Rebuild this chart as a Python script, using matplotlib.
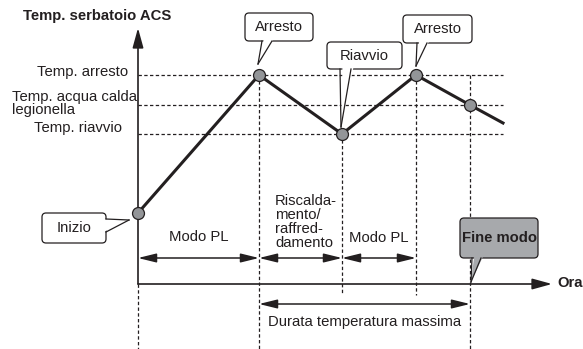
import matplotlib
matplotlib.use("Agg")
import matplotlib.pyplot as plt
from matplotlib.patches import FancyBboxPatch, Polygon

plt.rcParams["font.family"] = ["Liberation Sans", "DejaVu Sans"]

# 1. Data (time / temperature in diagram units, origin at the axes corner)
time_pts = [0, 121, 204, 278, 332, 365]
temp_pts = [71, 209, 150, 209, 179, 161]

level_vals = [209, 179, 150]          # stop, legionella, restart
t_stop1, t_restart, t_stop2, t_end = 121, 204, 278, 332
t_axis_end = 414
temp_axis_end = 256

phase_spans = [(0, t_stop1), (t_stop1, t_restart), (t_restart, t_stop2)]
phase_labels = ["Modo PL", "Riscalda-\nmento/\nraffred-\ndamento", "Modo PL"]

INK = "#231f20"
FS = 10.7

# 2. Figure
fig = plt.figure(figsize=(5.83, 3.49), dpi=100)
ax = fig.add_axes([0, 0, 1, 1])
ax.set_xlim(-138, 445)
ax.set_ylim(-65, 284)
ax.axis("off")

dot = dict(color=INK, lw=0.9, linestyle=(0, (2.7, 1.9)))

# 3. Guide lines
for lv in level_vals:
    ax.plot([0, time_pts[-1]], [lv, lv], **dot, zorder=1)

ax.plot([0, 0], [0, -65], **dot)
ax.plot([t_stop1, t_stop1], [level_vals[0], -65], **dot)
ax.plot([t_restart, t_restart], [level_vals[2], -11], **dot)
ax.plot([t_stop2, t_stop2], [level_vals[0], -11], **dot)
ax.plot([t_end, t_end], [level_vals[0], -65], **dot)

# 4. Axes arrows
axis_arrow = dict(arrowstyle="-|>,head_length=1.2,head_width=0.33", color=INK,
                  lw=1.2, mutation_scale=10, shrinkA=0, shrinkB=0)
ax.annotate("", xy=(0, temp_axis_end), xytext=(0, 0), arrowprops=axis_arrow)
ax.annotate("", xy=(t_axis_end, 0), xytext=(0, 0), arrowprops=axis_arrow)

ax.text(-115, 268, "Temp. serbatoio ACS", fontsize=FS, fontweight="bold",
        color=INK, ha="left", va="center")
ax.text(t_axis_end + 5, 1, "Ora", fontsize=FS, fontweight="bold",
        color=INK, ha="left", va="center")

ax.text(-10, level_vals[0] + 3, "Temp. arresto", fontsize=FS, color=INK,
        ha="right", va="center")
ax.text(-126, level_vals[1] + 1.5, "Temp. acqua calda\nlegionella", fontsize=FS,
        color=INK, ha="left", va="center", linespacing=0.9)
ax.text(-16, level_vals[2] + 6, "Temp. riavvio", fontsize=FS, color=INK,
        ha="right", va="center")

# 5. Temperature curve
ax.plot(time_pts, temp_pts, color=INK, lw=2.2, zorder=3,
        marker="o", markevery=[0, 1, 2, 3, 4], markersize=8.6,
        markerfacecolor="#939598", markeredgecolor=INK, markeredgewidth=0.9)

# 6. Phase arrows
dbl = dict(arrowstyle="<|-|>,head_length=1.1,head_width=0.27", color=INK,
           lw=1.1, mutation_scale=10, shrinkA=0, shrinkB=0)
for a, b in phase_spans:
    ax.annotate("", xy=(b, 26), xytext=(a, 26), arrowprops=dbl)
ax.text((0 + t_stop1) / 2, 47, phase_labels[0], fontsize=FS, color=INK,
        ha="center", va="center")
ax.text(t_stop1 + 16, 62, phase_labels[1], fontsize=FS, color=INK,
        ha="left", va="center", linespacing=1.0)
ax.text((t_restart + t_stop2) / 2, 46, phase_labels[2], fontsize=FS, color=INK,
        ha="center", va="center")

ax.annotate("", xy=(t_end, -20), xytext=(t_stop1, -20), arrowprops=dbl)
ax.text((t_stop1 + t_end) / 2, -38, "Durata temperatura massima", fontsize=FS,
        color=INK, ha="center", va="center")


# 7. Callouts
def callout(cx, cy, w, h, text, b1, b2, tip, fc="white", bold=False):
    box = FancyBboxPatch((cx - w / 2, cy - h / 2), w, h,
                         boxstyle="round,pad=0,rounding_size=4",
                         fc=fc, ec=INK, lw=0.9, zorder=5)
    ax.add_patch(box)
    mx, my = (b1[0] + b2[0]) / 2, (b1[1] + b2[1]) / 2
    dx, dy = cx - mx, cy - my
    n = (dx ** 2 + dy ** 2) ** 0.5
    ix, iy = 3 * dx / n, 3 * dy / n
    ax.add_patch(Polygon([(b1[0] + ix, b1[1] + iy), (b2[0] + ix, b2[1] + iy), tip],
                         closed=True, fc=fc, ec="none", zorder=6))
    ax.plot([b1[0], tip[0]], [b1[1], tip[1]], color=INK, lw=0.9, zorder=7)
    ax.plot([b2[0], tip[0]], [b2[1], tip[1]], color=INK, lw=0.9, zorder=7)
    ax.text(cx, cy, text, fontsize=FS, color=INK, ha="center", va="center",
            fontweight="bold" if bold else "normal", zorder=8)


callout(141, 257, 68, 28, "Arresto", (124, 243), (134, 243), (120, 220))
callout(226.5, 228.5, 75, 27, "Riavvio", (202, 215), (213, 215), (203, 157))
callout(299.5, 255, 69, 28, "Arresto", (279, 241), (289, 241), (278, 218))
callout(-64, 56, 64, 30, "Inizio", (-32, 65), (-32, 52), (-9, 64))
callout(361, 46, 78, 40, "Fine modo", (334, 26), (343, 26), (333, 2),
        fc="#a7a9ac", bold=True)

fig.savefig("out.png", dpi=100)
